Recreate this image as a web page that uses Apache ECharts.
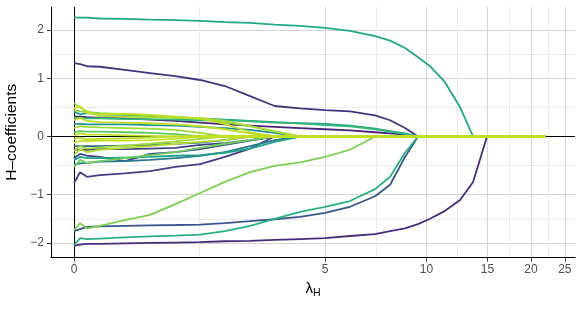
<!DOCTYPE html>
<html><head><meta charset="utf-8">
<script src="https://cdn.jsdelivr.net/npm/echarts@6/dist/echarts.min.js"></script>
<style>html,body{margin:0;padding:0;background:#fff}#c{width:581px;height:309px}</style>
</head><body><div id="c"></div>
<script>
// lambda grid (original units)
const lambda = [0, 0.08, 0.17, 0.34, 0.68, 1.04, 1.43, 1.85, 2.32, 2.86, 3.46, 4.18, 5.0, 5.95, 7.07, 7.83, 8.66, 9.45, 10.24, 11.32, 12.51, 13.64, 14.96, 16.3, 18.62, 21.95];
const xTicks = [0, 5, 10, 15, 20, 25];
const yTicks = [-2, -1, 0, 1, 2];

// coefficient paths (one value per lambda)
const cPurpleBottom = [-2.07,-2.04,-2.02,-2.02,-2.01,-2.00,-1.99,-1.98,-1.96,-1.95,-1.93,-1.91,-1.89,-1.84,-1.80,-1.73,-1.67,-1.58,-1.47,-1.31,-1.10,-0.77,0,0,0,0];
const cPurpleTop = [1.29,1.27,1.23,1.22,1.16,1.10,1.04,0.97,0.86,0.68,0.51,0.47,0.44,0.42,0.35,0.27,0.14,0,0,0,0,0,0,0,0,0];
const cDark2 = [0.33,0.33,0.32,0.31,0.30,0.28,0.26,0.23,0.20,0.18,0.16,0.14,0.12,0.10,0.07,0.05,0.03,0,0,0,0,0,0,0,0,0];
const cPurpleLow = [-0.79,-0.60,-0.68,-0.65,-0.62,-0.58,-0.51,-0.46,-0.34,-0.20,0,0,0,0,0,0,0,0,0,0,0,0,0,0,0,0];
const cIndigo1 = [-0.22,-0.22,-0.22,-0.21,-0.21,-0.20,-0.19,-0.14,-0.11,-0.06,0,0,0,0,0,0,0,0,0,0,0,0,0,0,0,0];
const cIndigo2 = [-0.36,-0.29,-0.32,-0.34,-0.41,-0.29,-0.26,-0.21,-0.14,-0.07,0,0,0,0,0,0,0,0,0,0,0,0,0,0,0,0];
const cBlueBottom = [-1.73,-1.69,-1.64,-1.63,-1.62,-1.61,-1.60,-1.59,-1.56,-1.52,-1.48,-1.43,-1.35,-1.23,-1.03,-0.82,-0.34,0,0,0,0,0,0,0,0,0];
const cBlue2 = [-0.16,-0.16,-0.16,-0.16,-0.15,-0.14,-0.12,-0.10,-0.06,0,0,0,0,0,0,0,0,0,0,0,0,0,0,0,0,0];
const cBlue3 = [-0.47,-0.45,-0.44,-0.42,-0.41,-0.39,-0.36,-0.32,-0.26,-0.16,-0.06,0,0,0,0,0,0,0,0,0,0,0,0,0,0,0];
const cTeal1 = [0.21,0.21,0.20,0.20,0.20,0.19,0.18,0.16,0.14,0.11,0.06,0,0,0,0,0,0,0,0,0,0,0,0,0,0,0];
const cTeal2 = [0.41,0.37,0.39,0.37,0.36,0.34,0.32,0.30,0.28,0.26,0.24,0.22,0.21,0.18,0.13,0.09,0.05,0,0,0,0,0,0,0,0,0];
const cTeal3 = [-0.39,-0.34,-0.36,-0.36,-0.35,-0.34,-0.32,-0.31,-0.27,-0.20,-0.09,0,0,0,0,0,0,0,0,0,0,0,0,0,0,0];
const cTealTop = [2.30,2.30,2.30,2.28,2.27,2.25,2.24,2.22,2.19,2.17,2.13,2.10,2.05,1.98,1.86,1.76,1.60,1.41,1.23,0.93,0.49,0,0,0,0,0];
const cGreenBottom = [-2.05,-1.89,-1.91,-1.90,-1.87,-1.85,-1.83,-1.81,-1.73,-1.62,-1.47,-1.33,-1.23,-1.12,-0.90,-0.68,-0.27,0,0,0,0,0,0,0,0,0];
const cGreen2 = [0.31,0.31,0.30,0.30,0.29,0.29,0.28,0.27,0.27,0.25,0.23,0.22,0.19,0.17,0.12,0.08,0.04,0,0,0,0,0,0,0,0,0];
const cGreen3 = [0.07,0.09,0.08,0.08,0.07,0.06,0.04,0,0,0,0,0,0,0,0,0,0,0,0,0,0,0,0,0,0,0];
const cLime1 = [-0.51,-0.39,-0.44,-0.41,-0.36,-0.31,-0.26,-0.19,-0.12,-0.06,0,0,0,0,0,0,0,0,0,0,0,0,0,0,0,0];
const cLimeBottom = [-1.71,-1.56,-1.67,-1.62,-1.50,-1.39,-1.18,-0.97,-0.77,-0.60,-0.49,-0.43,-0.34,-0.22,0,0,0,0,0,0,0,0,0,0,0,0];
const cLime2 = [0.44,0.42,0.41,0.39,0.37,0.35,0.32,0.29,0.24,0.17,0.08,0,0,0,0,0,0,0,0,0,0,0,0,0,0,0];
const cLime3 = [0.14,0.17,0.16,0.15,0.14,0.13,0.11,0.06,0,0,0,0,0,0,0,0,0,0,0,0,0,0,0,0,0,0];
const cLime4 = [-0.24,-0.16,-0.20,-0.18,-0.15,-0.12,-0.08,-0.04,0,0,0,0,0,0,0,0,0,0,0,0,0,0,0,0,0,0];
const cLime5 = [0.56,0.48,0.42,0.34,0.33,0.32,0.31,0.31,0.26,0.17,0.09,0,0,0,0,0,0,0,0,0,0,0,0,0,0,0];
const cYel1 = [-0.31,-0.21,-0.26,-0.22,-0.19,-0.16,-0.12,-0.09,-0.06,0,0,0,0,0,0,0,0,0,0,0,0,0,0,0,0,0];
const cYel2 = [-0.04,-0.02,-0.05,-0.04,-0.03,-0.02,0,0,0,0,0,0,0,0,0,0,0,0,0,0,0,0,0,0,0,0];
const cYel3 = [0.47,0.51,0.39,0.37,0.38,0.36,0.33,0.30,0.21,0.07,0,0,0,0,0,0,0,0,0,0,0,0,0,0,0,0];
const cYel4 = [0.02,0.05,0.03,0.03,0.02,0.01,0,0,0,0,0,0,0,0,0,0,0,0,0,0,0,0,0,0,0,0];
const cYel5 = [-0.11,-0.07,-0.08,-0.07,-0.07,-0.06,-0.04,0,0,0,0,0,0,0,0,0,0,0,0,0,0,0,0,0,0,0];
const cYel6 = [0.27,0.31,0.26,0.24,0.23,0.22,0.20,0.17,0.12,0.05,0,0,0,0,0,0,0,0,0,0,0,0,0,0,0,0];

const paths = [cPurpleBottom, cPurpleTop, cDark2, cPurpleLow, cIndigo1, cIndigo2, cBlueBottom, cBlue2, cBlue3, cTeal1, cTeal2, cTeal3, cTealTop, cGreenBottom, cGreen2, cGreen3, cLime1, cLimeBottom, cLime2, cLime3, cLime4, cLime5, cYel1, cYel2, cYel3, cYel4, cYel5, cYel6];
const colors = ['#472c7a','#46337e','#482576','#433e85','#414487','#3e4a89','#39568c','#31688e','#2a788e','#21918c','#1f9e89','#20a386','#22a884','#2ab07f','#35b779','#5ec962','#6ece58','#7ad151','#86d549','#a0da39','#9fda3a','#a8db34','#b5de2b','#b5de2b','#c2df23','#c2df23','#c8e020','#bddf26'];

// pseudo-log (sigma = 1) transform used by both axes
const tr = v => Math.asinh(v / 2);
const inv = t => 2 * Math.sinh(t);
const xMaj = xTicks.map(tr);
const yMaj = yTicks.map(tr);
const mids = a => a.slice(1).map((v, i) => (v + a[i]) / 2);
const xMin = mids(xMaj);
const yMin = mids(yMaj);

const XMIN = -0.1509, XMAX = 3.287, YMIN = -1.0017, YMAX = 1.072;
const fmt = v => { const n = Math.round(inv(v)); return n < 0 ? '\u2212' + Math.abs(n) : String(n); };
const font = 'Liberation Sans, Arial, sans-serif';

const series = [{
  type: 'line', data: [], silent: true, xAxisIndex: 0, yAxisIndex: 0, z: 1,
  markLine: { silent: true, symbol: 'none', z: 1, label: { show: false }, animation: false,
    lineStyle: { color: '#000', width: 1, type: 'solid' },
    emphasis: { disabled: true },
    data: [{ yAxis: 0 }, { xAxis: 0 }] }
}].concat(paths.map((p, i) => ({
  type: 'line', showSymbol: false, symbol: 'none', silent: true, z: 3,
  xAxisIndex: 0, yAxisIndex: 0,
  lineStyle: { color: colors[i], width: 1.8 },
  data: lambda.map((l, j) => [tr(l), tr(p[j])])
})));

const chart = echarts.init(document.getElementById('c'), null, { renderer: 'canvas' });
chart.setOption({
  animation: false,
  backgroundColor: '#fff',
  grid: { left: 51, right: 6, top: 7, bottom: 51.5, containLabel: false, outerBoundsMode: 'none' },
  xAxis: [{
    type: 'value', min: XMIN, max: XMAX, position: 'bottom',
    axisLine: { show: true, onZero: false, lineStyle: { color: '#000', width: 1 } },
    axisTick: { show: true, length: 4, lineStyle: { color: '#333' }, customValues: xMaj },
    axisLabel: { show: true, customValues: xMaj, formatter: fmt, color: '#4d4d4d', fontSize: 12, fontFamily: font, margin: 6 },
    splitLine: { show: true, lineStyle: { color: '#d4d4d4', width: 1 } },
    name: '{a|\u03bb}{b|H}', nameLocation: 'middle', nameGap: 22,
    nameTextStyle: { rich: { a: { fontSize: 15, fontFamily: font, color: '#000' }, b: { fontSize: 10.5, fontFamily: font, color: '#000', padding: [8, 0, 0, 0] } } }
  }, {
    type: 'value', min: XMIN, max: XMAX, position: 'top',
    axisLine: { show: false }, axisLabel: { show: false },
    axisTick: { show: false, customValues: xMin },
    splitLine: { show: true, lineStyle: { color: '#ebebeb', width: 1 } }
  }],
  yAxis: [{
    type: 'value', min: YMIN, max: YMAX, position: 'left',
    axisLine: { show: true, onZero: false, lineStyle: { color: '#000', width: 1 } },
    axisTick: { show: true, length: 4, lineStyle: { color: '#333' }, customValues: yMaj },
    axisLabel: { show: true, customValues: yMaj, formatter: fmt, color: '#4d4d4d', fontSize: 12, fontFamily: font, margin: 7 },
    splitLine: { show: true, lineStyle: { color: '#d4d4d4', width: 1 } },
    name: 'H\u2013coefficients', nameLocation: 'middle', nameGap: 26, nameRotate: 90,
    nameTextStyle: { fontSize: 15.5, fontFamily: font, color: '#000' }
  }, {
    type: 'value', min: YMIN, max: YMAX, position: 'right',
    axisLine: { show: false }, axisLabel: { show: false },
    axisTick: { show: false, customValues: yMin },
    splitLine: { show: true, lineStyle: { color: '#ebebeb', width: 1 } }
  }],
  series: series
});
</script>
</body></html>
